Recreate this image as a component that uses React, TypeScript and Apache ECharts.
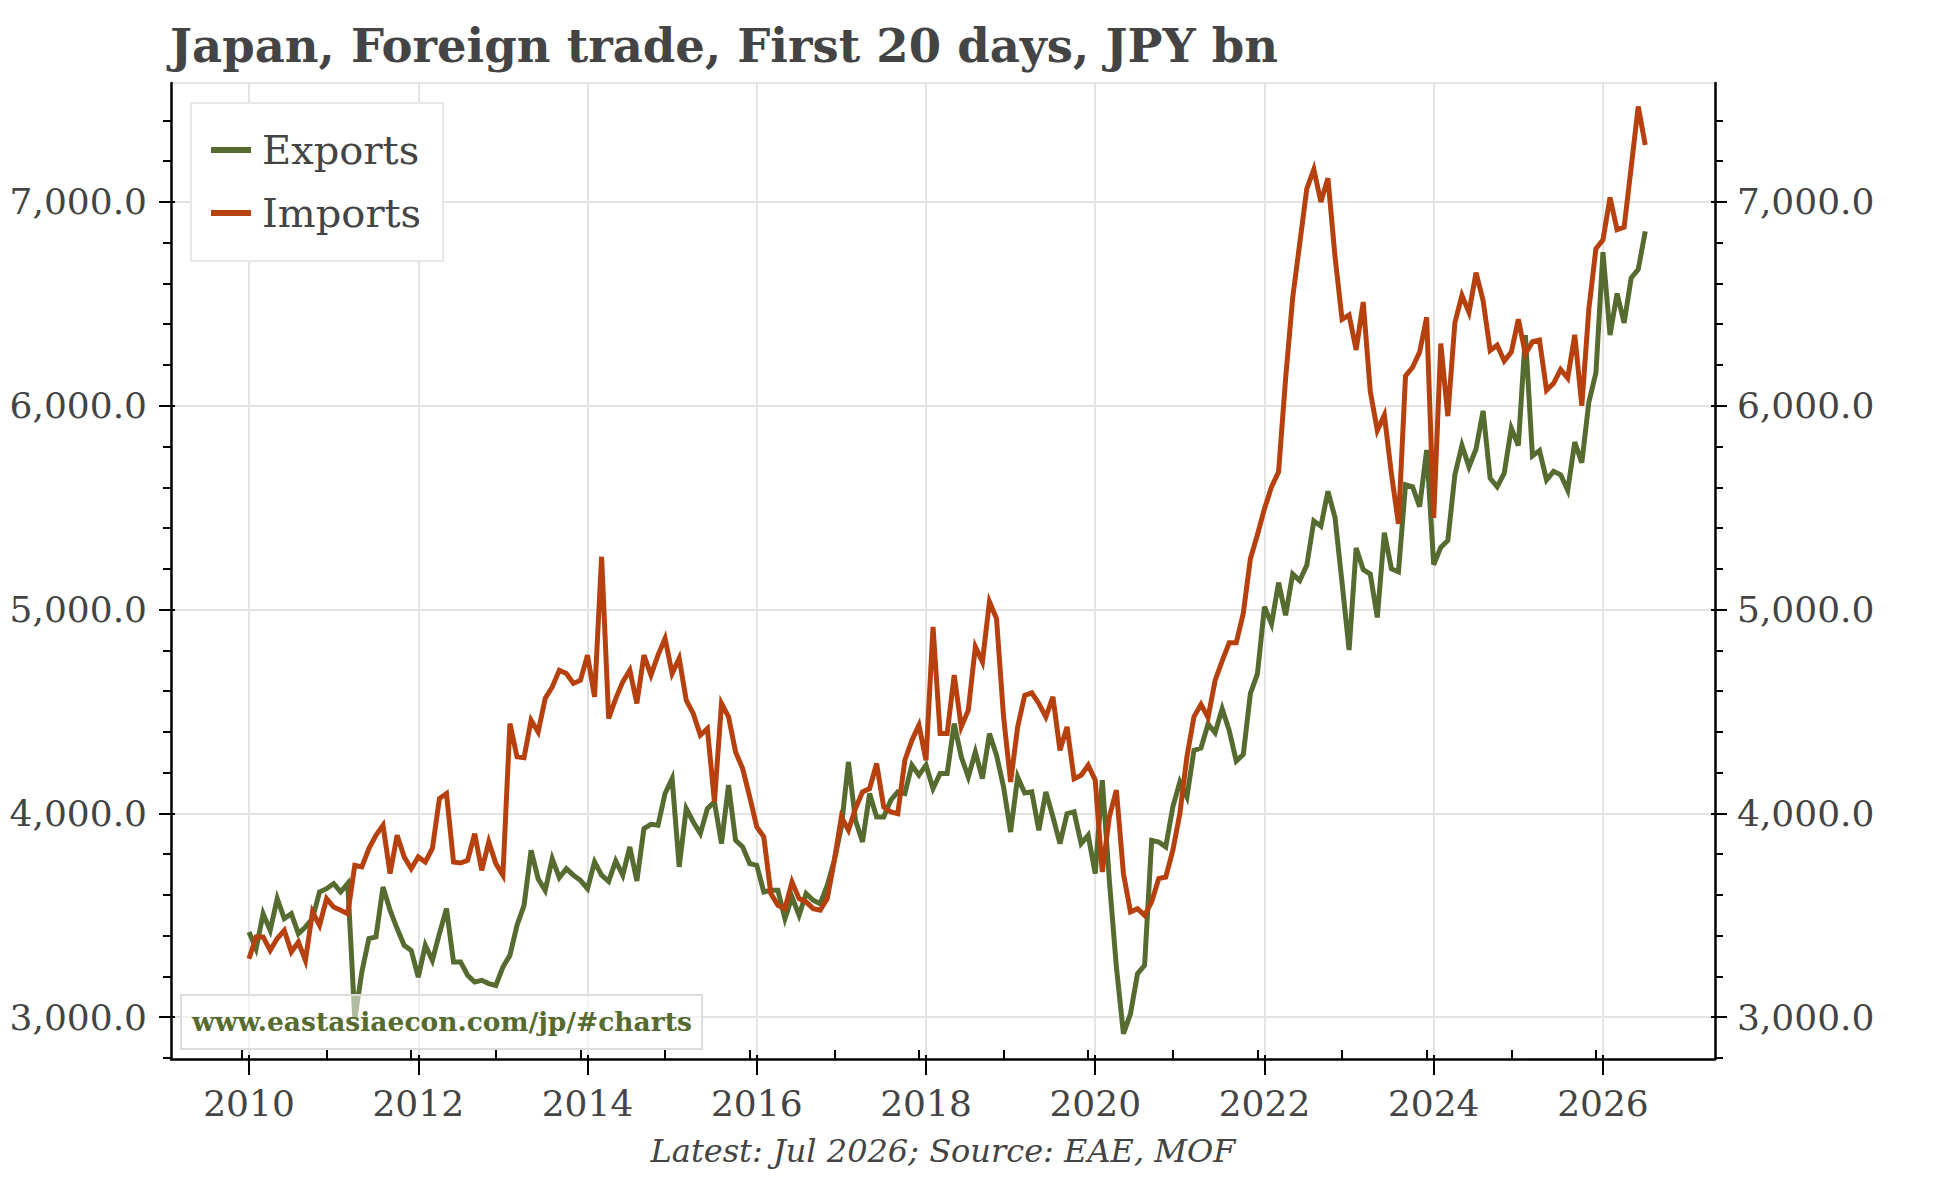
import React, { useEffect, useRef } from "react";
import * as echarts from "echarts";

// ---------- data (monthly, Jan 2010 .. Jul 2026) ----------
const START_YEAR = 2010;
const seriesNames = ["Exports", "Imports"];

const exportsValues = [
  3417, 3335, 3507, 3425, 3581, 3483, 3507, 3409, 3442, 3483, 3614, 3630,
  3655, 3614, 3655, 2990, 3221, 3385, 3393, 3638, 3524, 3434, 3352, 3327,
  3196, 3352, 3278, 3409, 3532, 3270, 3270, 3205, 3172, 3180, 3164, 3155,
  3245, 3303, 3450, 3548, 3818, 3679, 3622, 3777, 3684, 3728, 3696, 3671,
  3630, 3761, 3696, 3666, 3766, 3696, 3835, 3668, 3925, 3946, 3941, 4097,
  4170, 3737, 4023, 3957, 3900, 4023, 4056, 3851, 4138, 3867, 3835, 3753,
  3745, 3614, 3622, 3622, 3483, 3589, 3499, 3606, 3573, 3556, 3646, 3769,
  3933, 4252, 3966, 3859, 4097, 3982, 3982, 4064, 4105, 4097, 4236, 4187,
  4236, 4121, 4195, 4195, 4440, 4277, 4178, 4301, 4170, 4391, 4285, 4129,
  3908, 4178, 4100, 4105, 3917, 4105, 3982, 3851, 3998, 4007, 3851, 3892,
  3704, 4162, 3671, 3245, 2918, 3016, 3213, 3254, 3867, 3859, 3835, 4031,
  4154, 4080, 4309, 4320, 4438, 4395, 4513, 4406, 4256, 4289, 4587, 4684,
  5014, 4929, 5132, 4972, 5174, 5142, 5217, 5435, 5409, 5580, 5452, 5132,
  4801, 5302, 5196, 5174, 4961, 5377, 5200, 5185, 5612, 5602, 5505, 5783,
  5220, 5305, 5339, 5661, 5805, 5700, 5788, 5975, 5644, 5602, 5669, 5890,
  5805, 6347, 5754, 5780, 5636, 5678, 5661, 5585, 5822, 5720, 6017, 6161,
  6754, 6347, 6551, 6407, 6627, 6669, 6856,
];

const importsValues = [
  3286, 3393, 3393, 3327, 3385, 3425, 3319, 3368, 3278, 3516, 3450, 3581,
  3540, 3524, 3507, 3745, 3737, 3827, 3892, 3941, 3704, 3892, 3786, 3728,
  3786, 3761, 3827, 4072, 4097, 3761, 3756, 3769, 3900, 3720, 3860, 3753,
  3696, 4440, 4277, 4273, 4457, 4399, 4563, 4620, 4702, 4686, 4637, 4653,
  4776, 4571, 5259, 4465, 4563, 4645, 4702, 4539, 4776, 4678, 4776, 4858,
  4686, 4760, 4555, 4489, 4383, 4416, 4056, 4539, 4473, 4301, 4219, 4080,
  3933, 3884, 3606, 3548, 3532, 3663, 3581, 3565, 3532, 3524, 3581, 3769,
  3982, 3917, 4023, 4105, 4121, 4244, 4031, 4007, 3998, 4260, 4358, 4432,
  4260, 4915, 4391, 4391, 4678, 4424, 4506, 4817, 4743, 5038, 4956, 4473,
  4154, 4424, 4579, 4591, 4539, 4473, 4571, 4309, 4424, 4170, 4187, 4236,
  4162, 3712, 3982, 4113, 3704, 3516, 3532, 3499, 3565, 3679, 3687, 3818,
  3998, 4277, 4473, 4534, 4470, 4652, 4748, 4837, 4837, 4982, 5249, 5367,
  5495, 5602, 5676, 6135, 6530, 6797, 7064, 7160, 7000, 7117, 6733, 6424,
  6445, 6274, 6509, 6071, 5879, 5954, 5666, 5420, 6146, 6189, 6263, 6434,
  5449, 6305, 5949, 6407, 6542, 6458, 6653, 6517, 6271, 6297, 6220, 6263,
  6424, 6254, 6314, 6322, 6076, 6110, 6178, 6136, 6348, 6000, 6475, 6771,
  6814, 7022, 6864, 6876, 7170, 7469, 7280,
];

const xMajorTicks = [2010, 2012, 2014, 2016, 2018, 2020, 2022, 2024, 2026];
const xMinorTickYears = [
  2009, 2010, 2011, 2012, 2013, 2014, 2015, 2016, 2017, 2018, 2019, 2020,
  2021, 2022, 2023, 2024, 2025,
];
const yMajorTicks = [3000, 4000, 5000, 6000, 7000];
const yMinorTicks = [
  2800, 3200, 3400, 3600, 3800, 4200, 4400, 4600, 4800, 5200, 5400, 5600,
  5800, 6200, 6400, 6600, 6800, 7200, 7400,
];

const TITLE = "Japan, Foreign trade, First 20 days, JPY bn";
const WATERMARK = "www.eastasiaecon.com/jp/#charts";
const SOURCE = "Latest: Jul 2026; Source: EAE, MOF";

// ---------- styles ----------
const GREEN = "#556b2f";
const RED = "#b7410e";
const TEXT = "#444444";
const GRIDC = "#e3e3e3";
const FONT = "DejaVu Serif";

const X_MIN = 2009.078;
const X_MAX = 2027.324;
const Y_MIN = 2794;
const Y_MAX = 7584;

const fmtY = (v: number) =>
  v.toLocaleString("en-US", { minimumFractionDigits: 1, maximumFractionDigits: 1 });

function buildOption() {
  const toPairs = (arr: number[]) => arr.map((v, i) => [START_YEAR + i / 12, v]);
  const xMinor = xMinorTickYears.map((y) => y + 11 / 12);

  const tickLine = { color: "#000", width: 2 };
  const hidden = { show: false };

  const xBase = { type: "value", min: X_MIN, max: X_MAX, position: "bottom", offset: 0, gridIndex: 0 };
  const yBase = { type: "value", min: Y_MIN, max: Y_MAX, offset: 0, gridIndex: 0 };

  return {
    animation: false,
    backgroundColor: "#ffffff",
    grid: {
      left: 171,
      right: 229,
      top: 83,
      bottom: 119,
      show: true,
      borderColor: GRIDC,
      borderWidth: 2,
      backgroundColor: "transparent",
    },
    legend: {
      show: true,
      left: 191,
      top: 103,
      orient: "vertical",
      data: seriesNames,
      icon: "rect",
      itemWidth: 40,
      itemHeight: 6,
      itemGap: 23,
      padding: [27, 22, 28, 20],
      borderColor: "#e8e8e8",
      borderWidth: 2,
      backgroundColor: "#ffffff",
      textStyle: { fontFamily: FONT, fontSize: 40, color: TEXT, lineHeight: 40, padding: [0, 0, 0, 6] },
      z: 20,
    },
    xAxis: [
      {
        ...xBase,
        axisLine: { show: true, lineStyle: { color: "#000", width: 2.5 } },
        axisTick: { show: true, inside: false, length: 16, customValues: xMajorTicks, lineStyle: tickLine },
        axisLabel: {
          show: true,
          customValues: xMajorTicks,
          formatter: (v: number) => String(Math.round(v)),
          margin: 26,
          fontFamily: FONT,
          fontSize: 36,
          color: TEXT,
        },
        splitLine: { show: true, lineStyle: { color: GRIDC, width: 2 } },
      },
      {
        ...xBase,
        axisLine: hidden,
        axisTick: { show: true, inside: true, length: 9, customValues: xMinor, lineStyle: tickLine },
        axisLabel: hidden,
        splitLine: hidden,
      },
      {
        ...xBase,
        axisLine: hidden,
        axisTick: { show: true, inside: true, length: 4, customValues: xMajorTicks, lineStyle: tickLine },
        axisLabel: hidden,
        splitLine: hidden,
      },
    ],
    yAxis: [
      {
        ...yBase,
        position: "left",
        axisLine: { show: true, lineStyle: { color: "#000", width: 2.5 } },
        axisTick: { show: true, inside: false, length: 12, customValues: yMajorTicks, lineStyle: tickLine },
        axisLabel: {
          show: true,
          customValues: yMajorTicks,
          formatter: fmtY,
          margin: 24,
          fontFamily: FONT,
          fontSize: 36,
          color: TEXT,
        },
        splitLine: { show: true, lineStyle: { color: GRIDC, width: 2 } },
      },
      {
        ...yBase,
        position: "right",
        axisLine: { show: true, lineStyle: { color: "#000", width: 2.5 } },
        axisTick: { show: true, inside: false, length: 12, customValues: yMajorTicks, lineStyle: tickLine },
        axisLabel: {
          show: true,
          customValues: yMajorTicks,
          formatter: fmtY,
          margin: 22,
          fontFamily: FONT,
          fontSize: 36,
          color: TEXT,
        },
        splitLine: hidden,
      },
      {
        ...yBase,
        position: "left",
        axisLine: hidden,
        axisTick: { show: true, inside: false, length: 8, customValues: yMinorTicks, lineStyle: tickLine },
        axisLabel: hidden,
        splitLine: hidden,
      },
      {
        ...yBase,
        position: "right",
        axisLine: hidden,
        axisTick: { show: true, inside: false, length: 8, customValues: yMinorTicks, lineStyle: tickLine },
        axisLabel: hidden,
        splitLine: hidden,
      },
      {
        ...yBase,
        position: "left",
        axisLine: hidden,
        axisTick: { show: true, inside: true, length: 4, customValues: yMajorTicks, lineStyle: tickLine },
        axisLabel: hidden,
        splitLine: hidden,
      },
      {
        ...yBase,
        position: "right",
        axisLine: hidden,
        axisTick: { show: true, inside: true, length: 4, customValues: yMajorTicks, lineStyle: tickLine },
        axisLabel: hidden,
        splitLine: hidden,
      },
    ],
    series: [
      {
        name: seriesNames[0],
        type: "line",
        xAxisIndex: 0,
        yAxisIndex: 0,
        data: toPairs(exportsValues),
        showSymbol: false,
        symbol: "none",
        lineStyle: { color: GREEN, width: 5, join: "miter" },
        itemStyle: { color: GREEN },
        z: 3,
      },
      {
        name: seriesNames[1],
        type: "line",
        xAxisIndex: 0,
        yAxisIndex: 0,
        data: toPairs(importsValues),
        showSymbol: false,
        symbol: "none",
        lineStyle: { color: RED, width: 5, join: "miter" },
        itemStyle: { color: RED },
        z: 4,
      },
    ],
    graphic: [
      {
        type: "text",
        x: 170,
        y: 45,
        z: 50,
        style: {
          text: TITLE,
          fontFamily: FONT,
          fontWeight: "bold",
          fontSize: 46.5,
          fill: TEXT,
          align: "left",
          verticalAlign: "middle",
        },
      },
      {
        type: "rect",
        z: 50,
        shape: { x: 181, y: 995, width: 521, height: 54 },
        style: { fill: "rgba(255,255,255,0.55)", stroke: "#dcdcdc", lineWidth: 2 },
      },
      {
        type: "text",
        x: 192,
        y: 1021,
        z: 51,
        style: {
          text: WATERMARK,
          fontFamily: FONT,
          fontWeight: "bold",
          fontSize: 26.5,
          fill: GREEN,
          align: "left",
          verticalAlign: "middle",
        },
      },
      {
        type: "text",
        x: 943,
        y: 1151,
        z: 50,
        style: {
          text: SOURCE,
          fontFamily: FONT,
          fontStyle: "italic",
          fontSize: 32,
          fill: TEXT,
          align: "center",
          verticalAlign: "middle",
        },
      },
    ],
  };
}

export default function App() {
  const ref = useRef<HTMLDivElement | null>(null);
  useEffect(() => {
    if (!ref.current) return;
    const chart = echarts.init(ref.current, undefined, { renderer: "svg" });
    chart.setOption(buildOption() as any);
    return () => chart.dispose();
  }, []);
  return (
    <div
      ref={ref}
      style={{ position: "absolute", left: 0, top: 0, width: 1944, height: 1178, background: "#fff" }}
    />
  );
}
